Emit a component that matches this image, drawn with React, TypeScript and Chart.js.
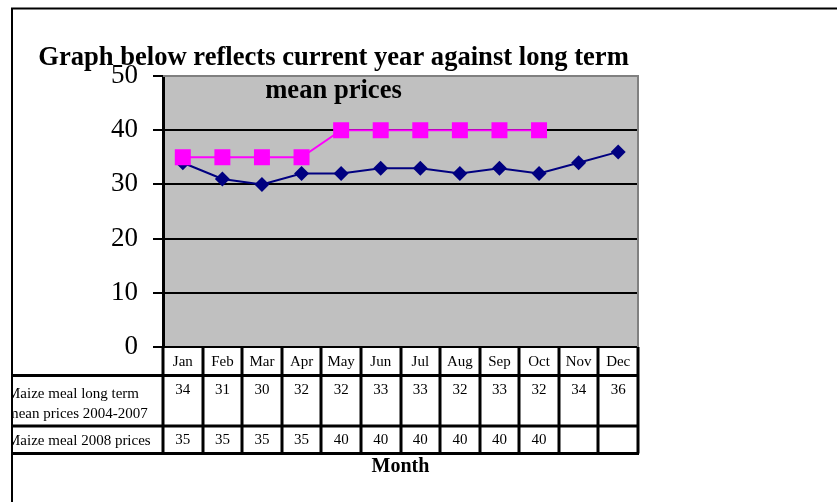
import React, { useEffect, useRef } from 'react';
import { Chart, registerables } from 'chart.js';

Chart.register(...registerables);

const months = ['Jan', 'Feb', 'Mar', 'Apr', 'May', 'Jun', 'Jul', 'Aug', 'Sep', 'Oct', 'Nov', 'Dec'];
const longTermMean = [34, 31, 30, 32, 32, 33, 33, 32, 33, 32, 34, 36];
const prices2008: (number | null)[] = [35, 35, 35, 35, 40, 40, 40, 40, 40, 40, null, null];
const yMin = 0;
const yMax = 50;
const yStep = 10;
const longTermLabel = ['Maize meal long term', 'mean prices 2004-2007'];
const prices2008Label = ['Maize meal 2008 prices'];
const titleLines = ['Graph below reflects current year against long term', 'mean prices'];
const xTitle = 'Month';

const FONT = "'Liberation Serif', 'Times New Roman', serif";

const framePlugin = {
  id: 'frameAndTable',
  beforeDraw(chart: any) {
    const { ctx, chartArea: a } = chart;
    ctx.save();
    ctx.fillStyle = '#ffffff';
    ctx.fillRect(0, 0, chart.width, chart.height);
    ctx.fillStyle = '#C0C0C0';
    ctx.fillRect(a.left, a.top, a.right - a.left, a.bottom - a.top);
    ctx.restore();
  },
  afterDraw(chart: any) {
    const { ctx, chartArea: a } = chart;
    const x = chart.scales.x;
    const half = (x.getPixelForValue(1) - x.getPixelForValue(0)) / 2;
    ctx.save();

    // plot area border (top & right)
    ctx.strokeStyle = '#808080';
    ctx.lineWidth = 2;
    ctx.beginPath();
    ctx.moveTo(a.left, a.top);
    ctx.lineTo(a.right, a.top);
    ctx.lineTo(a.right, a.bottom);
    ctx.stroke();

    // outer frame
    ctx.strokeStyle = '#000';
    ctx.lineWidth = 2;
    ctx.beginPath();
    ctx.moveTo(12, chart.height);
    ctx.lineTo(12, 8.5);
    ctx.lineTo(chart.width, 8.5);
    ctx.stroke();

    // data table
    const rowTop = a.bottom;
    const r1 = a.bottom + 28.5;
    const r2 = a.bottom + 79;
    const r3 = a.bottom + 106.5;
    ctx.strokeStyle = '#000';
    ctx.lineWidth = 3;
    ctx.beginPath();
    for (let i = 0; i <= months.length; i++) {
      const px = Math.round(x.getPixelForValue(0) - half + i * 2 * half);
      ctx.moveTo(px, rowTop);
      ctx.lineTo(px, r3);
    }
    [r1, r2, r3].forEach((yy) => {
      ctx.moveTo(12, yy);
      ctx.lineTo(a.right + 1, yy);
    });
    ctx.stroke();

    ctx.fillStyle = '#000';
    ctx.textAlign = 'center';
    ctx.textBaseline = 'alphabetic';
    ctx.font = `15px ${FONT}`;
    months.forEach((m, i) => {
      const cx = x.getPixelForValue(i);
      ctx.fillText(m, cx, rowTop + 19);
      ctx.fillText(String(longTermMean[i]), cx, r1 + 18);
      const v = prices2008[i];
      if (v !== null) ctx.fillText(String(v), cx, r2 + 18);
    });

    // row labels, clipped at the frame
    ctx.save();
    ctx.beginPath();
    ctx.rect(13, rowTop, a.left - 13, r3 - rowTop);
    ctx.clip();
    ctx.textAlign = 'left';
    ctx.font = `15px ${FONT}`;
    longTermLabel.forEach((t, i) => ctx.fillText(t, 7, r1 + 22 + i * 20));
    prices2008Label.forEach((t) => ctx.fillText(t, 7, r2 + 19));
    ctx.restore();

    // x axis title
    ctx.textAlign = 'center';
    ctx.font = `bold 20px ${FONT}`;
    ctx.fillText(xTitle, (a.left + a.right) / 2, r3 + 18);

    // chart title
    ctx.font = `bold 26.6px ${FONT}`;
    titleLines.forEach((t, i) => ctx.fillText(t, 333.5, 65 + i * 33));

    ctx.restore();
  },
};

export default function App() {
  const ref = useRef<HTMLCanvasElement | null>(null);
  useEffect(() => {
    if (!ref.current) return;
    const chart = new Chart(ref.current, {
      type: 'line',
      data: {
        labels: months,
        datasets: [
          {
            label: prices2008Label.join(' '),
            data: prices2008,
            borderColor: '#FF00FF',
            backgroundColor: '#FF00FF',
            borderWidth: 2,
            pointStyle: 'rect',
            pointRadius: 11.3,
            pointHoverRadius: 11.3,
            pointBorderWidth: 0,
            spanGaps: false,
          },
          {
            label: longTermLabel.join(' '),
            data: longTermMean,
            borderColor: '#000080',
            backgroundColor: '#000080',
            borderWidth: 2,
            pointStyle: 'rectRot',
            pointRadius: 7.5,
            pointHoverRadius: 7.5,
            pointBorderWidth: 0,
          },
        ],
      },
      options: {
        responsive: false,
        maintainAspectRatio: false,
        animation: false,
        layout: { padding: { left: 103, right: 199, top: 76, bottom: 155 } },
        plugins: {
          legend: { display: false },
          title: { display: false },
          tooltip: { enabled: false },
        },
        scales: {
          x: {
            type: 'category',
            display: false,
            offset: true,
          },
          y: {
            min: yMin,
            max: yMax,
            afterFit(scale: any) {
              scale.width = 60;
            },
            ticks: {
              stepSize: yStep,
              color: '#000',
              padding: 15,
              font: { family: FONT, size: 27 },
            },
            grid: {
              color: (c: any) => (c.tick && c.tick.value === yMax ? '#808080' : '#000'),
              lineWidth: 2,
              tickLength: 10,
              tickColor: '#000',
              tickWidth: 2,
            },
            border: { display: true, color: '#000', width: 3 },
          },
        },
      },
      plugins: [framePlugin],
    });
    return () => chart.destroy();
  }, []);
  return (
    <div style={{ position: 'absolute', left: 0, top: 0, width: 837, height: 502 }}>
      <canvas ref={ref} width={837} height={502} style={{ display: 'block' }} />
    </div>
  );
}
